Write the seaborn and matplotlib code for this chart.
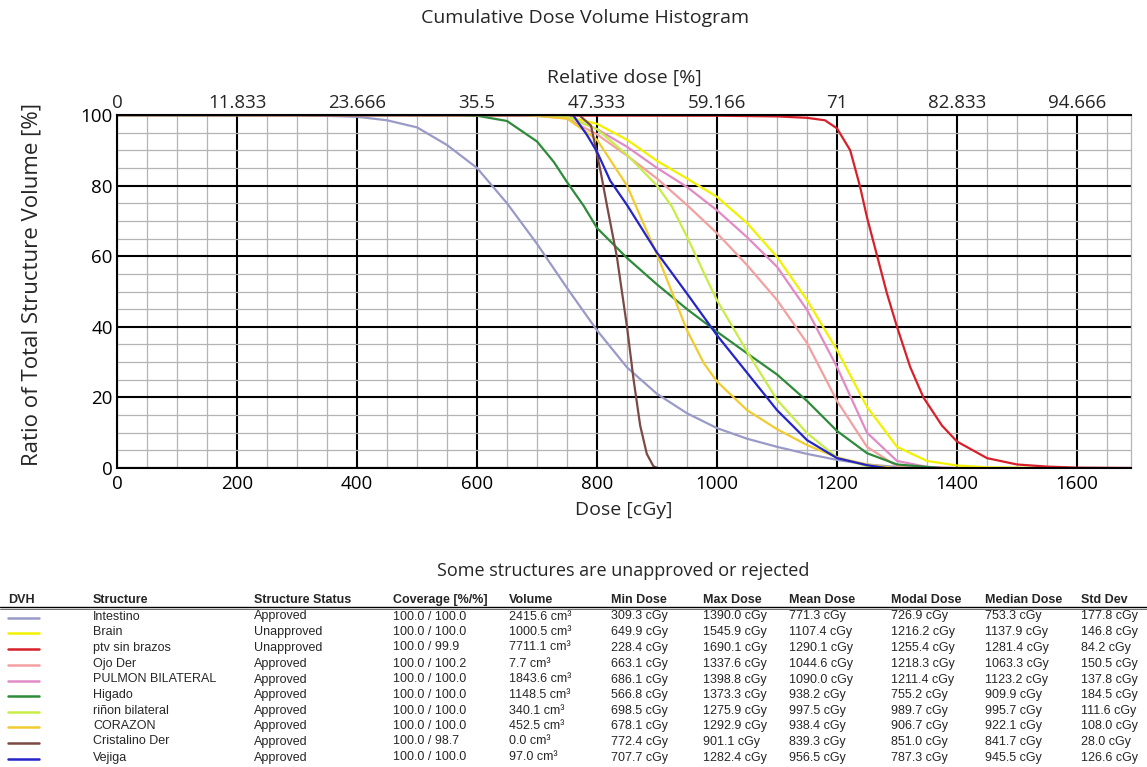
import numpy as np
import pandas as pd
import matplotlib
matplotlib.use("Agg")
import matplotlib.pyplot as plt
from matplotlib.lines import Line2D
import seaborn as sns

# ---------------- data ----------------
structures = ["Intestino", "Brain", "ptv sin brazos", "Ojo Der", "PULMON BILATERAL",
              "Higado", "riñon bilateral", "CORAZON", "Cristalino Der", "Vejiga"]
colors = ["#9a9ac8", "#f2f200", "#d8202a", "#f2a0a0", "#e28ac6",
          "#2e8b3a", "#c8ec48", "#f0cc30", "#7b4a44", "#2424c8"]
status = ["Approved", "Unapproved", "Unapproved", "Approved", "Approved",
          "Approved", "Approved", "Approved", "Approved", "Approved"]
coverage = ["100.0 / 100.0", "100.0 / 100.0", "100.0 / 99.9", "100.0 / 100.2", "100.0 / 100.0",
            "100.0 / 100.0", "100.0 / 100.0", "100.0 / 100.0", "100.0 / 98.7", "100.0 / 100.0"]
volume = ["2415.6 cm³", "1000.5 cm³", "7711.1 cm³", "7.7 cm³", "1843.6 cm³",
          "1148.5 cm³", "340.1 cm³", "452.5 cm³", "0.0 cm³", "97.0 cm³"]
min_dose = ["309.3 cGy", "649.9 cGy", "228.4 cGy", "663.1 cGy", "686.1 cGy",
            "566.8 cGy", "698.5 cGy", "678.1 cGy", "772.4 cGy", "707.7 cGy"]
max_dose = ["1390.0 cGy", "1545.9 cGy", "1690.1 cGy", "1337.6 cGy", "1398.8 cGy",
            "1373.3 cGy", "1275.9 cGy", "1292.9 cGy", "901.1 cGy", "1282.4 cGy"]
mean_dose = ["771.3 cGy", "1107.4 cGy", "1290.1 cGy", "1044.6 cGy", "1090.0 cGy",
             "938.2 cGy", "997.5 cGy", "938.4 cGy", "839.3 cGy", "956.5 cGy"]
modal_dose = ["726.9 cGy", "1216.2 cGy", "1255.4 cGy", "1218.3 cGy", "1211.4 cGy",
              "755.2 cGy", "989.7 cGy", "906.7 cGy", "851.0 cGy", "787.3 cGy"]
median_dose = ["753.3 cGy", "1137.9 cGy", "1281.4 cGy", "1063.3 cGy", "1123.2 cGy",
               "909.9 cGy", "995.7 cGy", "922.1 cGy", "841.7 cGy", "945.5 cGy"]
std_dev = ["177.8 cGy", "146.8 cGy", "84.2 cGy", "150.5 cGy", "137.8 cGy",
           "184.5 cGy", "111.6 cGy", "108.0 cGy", "28.0 cGy", "126.6 cGy"]

intestino_dose = [0, 300, 400, 450, 500, 550, 600, 650, 700, 750, 800, 850, 900, 950, 1000,
                  1050, 1100, 1150, 1200, 1250, 1300, 1390]
intestino_vol = [100, 100, 99.5, 98.5, 96.5, 91.5, 85, 75, 63.5, 51, 39, 28.5, 21, 15.5, 11.3,
                 8.3, 6, 4, 2.3, 1, 0.3, 0]
brain_dose = [0, 650, 700, 750, 800, 850, 900, 950, 1000, 1050, 1100, 1150, 1200, 1250, 1300,
              1350, 1400, 1450, 1546]
brain_vol = [100, 100, 99.9, 99.5, 97.5, 93, 87, 82, 76.8, 69.4, 59.8, 47.6, 33.4, 17.3, 6,
             2, 0.7, 0.2, 0]
ptv_dose = [0, 1000, 1100, 1150, 1180, 1200, 1222, 1238, 1250, 1267, 1283, 1300, 1322, 1344,
            1375, 1400, 1450, 1500, 1550, 1600, 1690]
ptv_vol = [100, 99.8, 99.6, 99.2, 98.5, 96.2, 90, 80, 71, 60, 49.6, 40, 28.6, 20,
           12, 7.5, 2.8, 1, 0.4, 0.1, 0]
ojo_dose = [0, 660, 700, 750, 800, 850, 900, 950, 1000, 1050, 1100, 1150, 1200, 1250, 1300, 1338]
ojo_vol = [100, 100, 99.8, 99, 94.5, 88.5, 82, 74.5, 66.5, 57.5, 47.6, 35.4, 19, 6, 0.5, 0]
pulmon_dose = [0, 690, 750, 800, 850, 900, 950, 1000, 1050, 1100, 1150, 1200, 1250, 1300, 1350, 1399]
pulmon_vol = [100, 100, 99.5, 96, 91, 85, 79.6, 73, 65.4, 57, 44.8, 28.6, 10, 2, 0.3, 0]
higado_dose = [0, 570, 600, 650, 700, 728, 750, 778, 800, 850, 900, 950, 1000, 1050, 1100,
               1150, 1200, 1250, 1300, 1373]
higado_vol = [100, 100, 99.8, 98.3, 92.5, 86.7, 81, 74.2, 68, 59.5, 52, 45, 38.6, 32.5, 26.5,
              19, 10.5, 4.2, 1, 0]
rinon_dose = [0, 700, 750, 800, 850, 900, 925, 950, 983, 1000, 1050, 1100, 1150, 1200, 1250, 1276]
rinon_vol = [100, 100, 99.5, 96, 88.7, 80, 74, 65.5, 53.5, 47.5, 33, 19.3, 9.9, 3, 0.5, 0]
corazon_dose = [0, 680, 750, 800, 850, 900, 928, 950, 978, 1000, 1050, 1100, 1150, 1200, 1250, 1293]
corazon_vol = [100, 100, 99, 93, 80, 60.5, 48.5, 39, 29.7, 24.5, 16.4, 11, 6.5, 3, 1, 0]
cristalino_dose = [0, 770, 790, 806, 817, 833, 850, 861, 872, 883, 894, 901]
cristalino_vol = [100, 100, 97, 84, 74, 60, 40, 25, 12, 4, 0.5, 0]
vejiga_dose = [0, 760, 783, 800, 822, 850, 900, 950, 1000, 1050, 1100, 1150, 1200, 1250, 1282]
vejiga_vol = [100, 100, 94.4, 89.6, 81.4, 74.5, 61, 49.4, 37.6, 27, 16.4, 7.9, 2.8, 0.8, 0]

dose_ticks = [0, 200, 400, 600, 800, 1000, 1200, 1400, 1600]
rel_labels = ["0", "11.833", "23.666", "35.5", "47.333", "59.166", "71", "82.833", "94.666"]
vol_ticks = [0, 20, 40, 60, 80, 100]

curves = [(intestino_dose, intestino_vol), (brain_dose, brain_vol), (ptv_dose, ptv_vol),
          (ojo_dose, ojo_vol), (pulmon_dose, pulmon_vol), (higado_dose, higado_vol),
          (rinon_dose, rinon_vol), (corazon_dose, corazon_vol),
          (cristalino_dose, cristalino_vol), (vejiga_dose, vejiga_vol)]

frames = []
for name, (d, v) in zip(structures, curves):
    frames.append(pd.DataFrame({"dose": d, "volume": v, "structure": name}))
df = pd.concat(frames, ignore_index=True)
palette = dict(zip(structures, colors))

# ---------------- figure ----------------
sns.set_theme(style="white")
plt.rcParams["font.family"] = ["Open Sans", "DejaVu Sans"]

W, H = 1147, 767
fig = plt.figure(figsize=(W / 100, H / 100), dpi=100)
fig.patch.set_facecolor("white")

def fx(px):
    return px / W

def fy(py):
    return 1 - py / H

L, R, T, B = 117, 1131, 115, 468
ax = fig.add_axes([fx(L), fy(B), fx(R - L), (B - T) / H])
ax.set_facecolor("white")

sns.lineplot(data=df, x="dose", y="volume", hue="structure", palette=palette,
             hue_order=structures, ax=ax, legend=False, estimator=None, sort=False,
             linewidth=1.6)

ax.set_xlim(0, 1690)
ax.set_ylim(0, 100)
ax.set_xticks(dose_ticks)
ax.set_xticks(np.arange(0, 1690, 50), minor=True)
ax.set_yticks(vol_ticks)
ax.set_yticks(np.arange(0, 101, 5), minor=True)
ax.grid(which="minor", color="#b4b4b4", linewidth=0.9)
ax.grid(which="major", color="black", linewidth=1.5)
ax.set_axisbelow(True)
ax.tick_params(axis="both", which="both", length=0, labelsize=13.5, colors="black")
ax.tick_params(axis="x", pad=5)
ax.tick_params(axis="y", pad=3)
for s in ["left", "bottom", "top"]:
    ax.spines[s].set_color("black")
    ax.spines[s].set_linewidth(1.5)
ax.spines["right"].set_color("#b4b4b4")
ax.spines["right"].set_linewidth(0.9)

ax.set_xlabel("Dose [cGy]", fontsize=14)
ax.xaxis.set_label_coords(0.5, -0.093)
ax.set_ylabel("Ratio of Total Structure Volume [%]", fontsize=16)
ax.yaxis.set_label_coords(-0.073, 0.52)

ax2 = ax.twiny()
ax2.set_xlim(ax.get_xlim())
ax2.set_xticks(dose_ticks)
ax2.set_xticklabels(rel_labels)
ax2.tick_params(axis="x", length=0, labelsize=13.5, pad=2)
ax2.set_xlabel("Relative dose [%]", fontsize=14)
ax2.xaxis.set_label_coords(0.5, 1.092)
for s in ax2.spines.values():
    s.set_visible(False)

fig.text(fx(585), fy(18), "Cumulative Dose Volume Histogram",
         ha="center", va="center", fontsize=14)

# ---------------- table ----------------
fig.text(fx(623), fy(571), "Some structures are unapproved or rejected",
         ha="center", va="center", fontsize=13)

tfont = ["Liberation Sans", "DejaVu Sans"]
headers = ["DVH", "Structure", "Structure Status", "Coverage [%/%]", "Volume", "Min Dose",
           "Max Dose", "Mean Dose", "Modal Dose", "Median Dose", "Std Dev"]
col_x = [8, 93, 254, 393, 509, 611, 703, 789, 891, 985, 1081]
header_y = 600
for h, x in zip(headers, col_x):
    fig.text(fx(x), fy(header_y), h, ha="left", va="center", fontsize=9,
             fontweight="bold", family=tfont)
fig.add_artist(Line2D([0, 1], [fy(606.5), fy(606.5)], color="black", lw=1.0,
                      transform=fig.transFigure))
fig.add_artist(Line2D([0, 1], [fy(608.5), fy(608.5)], color="#555555", lw=0.6,
                      transform=fig.transFigure))

row_y = [616.5, 632, 647.5, 664, 679.5, 695, 711, 726, 741.5, 757.5]
columns = [structures, status, coverage, volume, min_dose, max_dose, mean_dose,
           modal_dose, median_dose, std_dev]
for i, y in enumerate(row_y):
    fig.add_artist(Line2D([fx(8), fx(39)], [fy(y + 1), fy(y + 1)], color=colors[i], lw=1.8,
                          transform=fig.transFigure))
    for col, x in zip(columns, col_x[1:]):
        fig.text(fx(x), fy(y), col[i], ha="left", va="center", fontsize=9, family=tfont)

fig.savefig("out.png", dpi=100, facecolor="white")
